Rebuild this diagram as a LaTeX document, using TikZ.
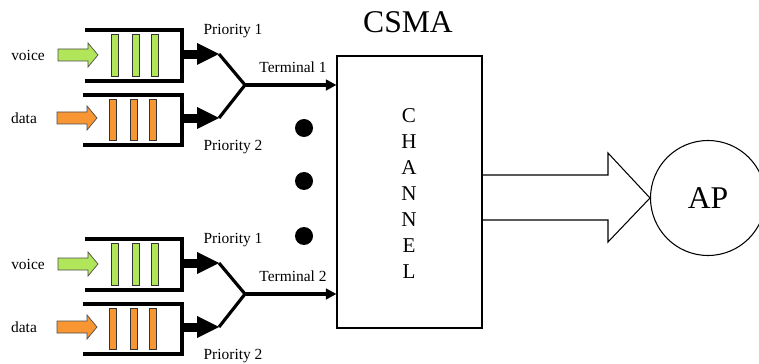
\documentclass[tikz,border=0pt]{standalone}
\usepackage{fontspec}
\setmainfont{Liberation Serif}
\usetikzlibrary{arrows.meta}
\definecolor{voicegreen}{RGB}{178,230,90}
\definecolor{dataorange}{RGB}{247,150,50}

\begin{document}
\begin{tikzpicture}[x=0.02cm, y=-0.02cm,
    lbl/.style={inner sep=0pt, font=\fontsize{8.8}{10}\selectfont},
    queue/.style={line width=1.8pt},
    bar/.style={draw=black!80, line width=0.4pt},
    termline/.style={line width=1.8pt},
    inarrow/.style={draw=black!70, line width=0.4pt}]
    \useasboundingbox (0,0) rectangle (759,364);

    % channel and access point
    \node[draw, line width=0.6pt, minimum width=145*0.02cm, minimum height=272*0.02cm, inner sep=0pt] (channel) at (409.5,192) {};
    \node[align=center, inner sep=0pt, font=\fontsize{12}{14.8}\selectfont] (chtext) at (409,194) {C\\H\\A\\N\\N\\E\\L};
    \node[font=\fontsize{18}{20}\selectfont, inner sep=0pt] (csma) at (408,22) {CSMA};
    \node[draw, circle, line width=0.6pt, minimum size=115*0.02cm, inner sep=0pt, font=\fontsize{18}{20}\selectfont] (ap) at (708,198) {AP};

    % hollow arrow from channel to AP
    \draw[line width=0.6pt] (channel.east |- 0,175) -- (608,175) -- (608,153) -- (ap.west) -- (608,242) -- (608,220) -- (channel.east |- 0,220);

    % two terminals
    \foreach \dy/\t in {0/1, 209/2} {
    \begin{scope}[shift={(0,\dy)}]
        \node[lbl] (voice\t) at (28,55) {voice};
        \node[lbl] (data\t) at (24,118) {data};
        \draw[inarrow, fill=voicegreen] (58,49) -- (88,49) -- (88,43) -- (98,55) -- (88,67) -- (88,61) -- (58,61) -- cycle;
        \draw[inarrow, fill=dataorange] (57,112) -- (87,112) -- (87,106) -- (97,118) -- (87,130) -- (87,124) -- (57,124) -- cycle;

        \draw[queue] (85,30) -| (182,81) -- (85,81);
        \draw[queue] (83,95) -| (182,145) -- (83,145);
        \foreach \bx in {111,132,151} \draw[bar, fill=voicegreen] (\bx,34) rectangle +(7,42);
        \foreach \bx in {109,130,149} \draw[bar, fill=dataorange] (\bx,99) rectangle +(7,41);

        % priority outputs
        \fill (182,50) rectangle (198,59);
        \fill (197,43) -- (219,54) -- (197,65) -- cycle;
        \fill (182,114) rectangle (198,123);
        \fill (197,107) -- (219,118) -- (197,129) -- cycle;
        \coordinate (vtip\t) at (219,54);
        \coordinate (dtip\t) at (219,118);
        \coordinate (join\t) at (245,85);
        \draw[termline, line join=miter] (vtip\t) -- (join\t) -- (dtip\t);
        \draw[termline, -{Triangle[length=6pt, width=6pt]}] (join\t) -- (join\t -| channel.west);

        \node[lbl] (prio1\t) at (233,31) {Priority 1};
        \node[lbl] (prio2\t) at (233,147) {Priority 2};
        \node[lbl] (term\t) at (293,67) {Terminal \t};
    \end{scope}
    }

    \foreach \dy in {128,181,236} \fill (304,\dy) circle (9);
\end{tikzpicture}
\end{document}
